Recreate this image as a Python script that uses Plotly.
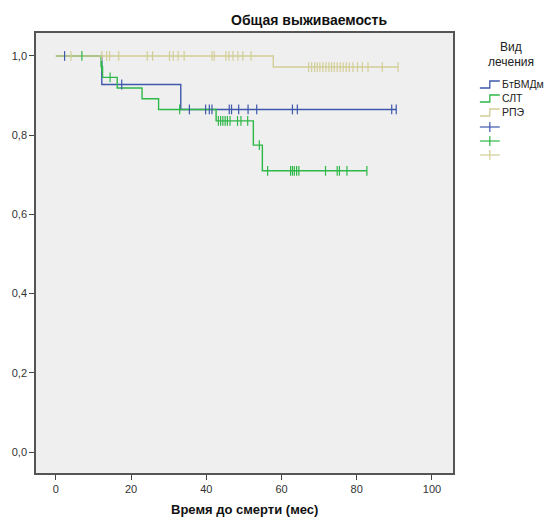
import plotly.graph_objects as go

# ---------------- data ----------------
groups = ["БтВМДм", "СЛТ", "РПЭ"]
colors = ["#3E58AC", "#2EB848", "#D3CE97"]

# event times (months) and survival after each event
blue_event_t = [12.2, 33.2]
blue_event_s = [0.928, 0.865]
blue_censor = [2.3, 17.5, 35.5, 39.8, 40.8, 41.5, 46.1, 46.7, 48.6, 51.1, 53.4,
               62.9, 64.2, 89.3, 90.5]

green_event_t = [12.0, 12.4, 16.3, 22.9, 27.3, 42.6, 52.5, 54.9]
green_event_s = [0.973, 0.946, 0.919, 0.892, 0.865, 0.836, 0.775, 0.710]
green_censor = [6.9, 12.2, 14.4, 32.9, 43.2, 43.8, 44.4, 45.0, 45.6, 46.3, 48.3,
                49.2, 51.0, 54.1, 56.3, 62.4, 62.9, 63.4, 64.0, 64.6, 71.7, 74.8,
                75.4, 77.4, 82.7]

beige_event_t = [57.8]
beige_event_s = [0.972]
beige_censor = [4.0, 12.2, 13.5, 14.3, 16.7, 24.3, 25.7, 30.2, 31.2, 32.5, 34.1,
                41.5, 42.1, 45.2, 46.0, 47.1, 48.4, 49.7, 51.9,
                67.2, 68.0, 68.8, 69.5, 70.2, 71.0, 71.8, 72.6, 73.3, 74.0, 74.8,
                75.6, 76.4, 77.2, 78.0, 79.0, 80.2, 81.5, 83.0, 86.8, 91.0]

event_t = [blue_event_t, green_event_t, beige_event_t]
event_s = [blue_event_s, green_event_s, beige_event_s]
censors = [blue_censor, green_censor, beige_censor]

x_ticks = [0, 20, 40, 60, 80, 100]
y_ticks = [0.0, 0.2, 0.4, 0.6, 0.8, 1.0]
y_tick_text = ["0,0", "0,2", "0,4", "0,6", "0,8", "1,0"]

title_text = "Общая выживаемость"
x_title = "Время до смерти (мес)"
legend_title = ["Вид", "лечения"]


def surv_at(t, ets, ess):
    s = 1.0
    for et, es in zip(ets, ess):
        if et <= t:
            s = es
    return s


fig = go.Figure()
for i in range(3):
    end = max(censors[i] + event_t[i])
    xs = [0] + event_t[i] + [end]
    ys = [1.0] + event_s[i] + [event_s[i][-1]]
    fig.add_trace(go.Scatter(x=xs, y=ys, mode="lines", line_shape="hv",
                             line=dict(color=colors[i], width=1.4),
                             showlegend=False, hoverinfo="skip"))
for i in range(3):
    cy = [surv_at(t, event_t[i], event_s[i]) for t in censors[i]]
    fig.add_trace(go.Scatter(x=censors[i], y=cy, mode="markers",
                             marker=dict(symbol="line-ns", size=7,
                                         line=dict(color=colors[i], width=1.2)),
                             showlegend=False, hoverinfo="skip"))

# ---------------- layout ----------------
W, H = 550, 522
L, R, T, B = 34, 97, 33, 49
pw, ph = W - L - R, H - T - B


def px(x):
    return (x - L) / pw


def py(y):
    return 1 - (y - T) / ph


axis_common = dict(showgrid=False, zeroline=False, showline=True, mirror=True,
                   linecolor="#555555", linewidth=1.5, ticks="outside",
                   ticklen=5, tickcolor="#444444", tickwidth=1,
                   tickfont=dict(family="Liberation Sans, Arial", size=11, color="#333333"))

fig.update_layout(
    width=W, height=H,
    margin=dict(l=L, r=R, t=T, b=B),
    paper_bgcolor="white",
    plot_bgcolor="#EFEFEF",
    xaxis=dict(range=[-5.3, 105.6], tickvals=x_ticks, **axis_common),
    yaxis=dict(range=[-0.053, 1.058], tickvals=y_ticks, ticktext=y_tick_text,
               **axis_common),
    font=dict(family="Liberation Sans, Arial", color="#222222"),
)

annotations = [
    dict(text="<b>%s</b>" % title_text, x=px(308), y=py(20), xref="paper", yref="paper",
         showarrow=False, font=dict(size=14, color="#111111"), xanchor="center", yanchor="middle"),
    dict(text="<b>%s</b>" % x_title, x=0.5, y=py(509), xref="paper", yref="paper",
         showarrow=False, font=dict(size=13, color="#111111"), xanchor="center", yanchor="middle"),
    dict(text=legend_title[0], x=px(511), y=py(47), xref="paper", yref="paper",
         showarrow=False, font=dict(size=12), xanchor="center", yanchor="middle"),
    dict(text=legend_title[1], x=px(511), y=py(62), xref="paper", yref="paper",
         showarrow=False, font=dict(size=12), xanchor="center", yanchor="middle"),
]
shapes = []
rows = [84, 98, 112]
for i, g in enumerate(groups):
    yc = rows[i]
    annotations.append(dict(text=g, x=px(500), y=py(yc), xref="paper", yref="paper",
                            showarrow=False, font=dict(size=10.5), xanchor="left",
                            yanchor="middle"))
    shapes.append(dict(type="path", xref="paper", yref="paper",
                       path="M %f %f L %f %f L %f %f L %f %f" % (
                           px(480), py(yc + 4), px(490), py(yc + 4),
                           px(490), py(yc - 3), px(500), py(yc - 3)),
                       line=dict(color=colors[i], width=1.3)))
crow = [127, 141, 155]
for i in range(3):
    yc = crow[i]
    shapes.append(dict(type="line", xref="paper", yref="paper",
                       x0=px(480), x1=px(500), y0=py(yc), y1=py(yc),
                       line=dict(color=colors[i], width=1.2)))
    shapes.append(dict(type="line", xref="paper", yref="paper",
                       x0=px(490), x1=px(490), y0=py(yc - 5), y1=py(yc + 5),
                       line=dict(color=colors[i], width=1.2)))

fig.update_layout(annotations=annotations, shapes=shapes)
fig.write_html("out.html")
